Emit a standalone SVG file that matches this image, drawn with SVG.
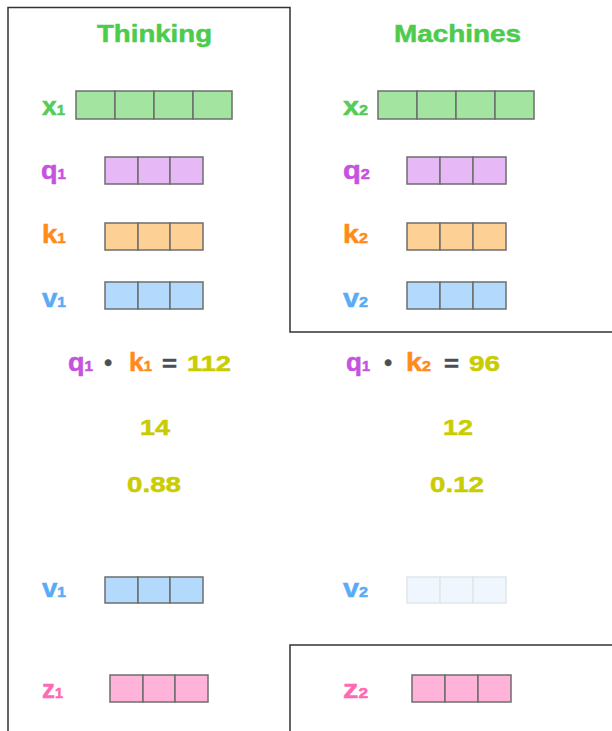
<svg xmlns="http://www.w3.org/2000/svg" width="612" height="731" viewBox="0 0 612 731">
<style>
text{font-family:"Liberation Sans",Arial,sans-serif;font-weight:bold;stroke-width:0.5}
.title{font-size:24px;fill:#4ccb4c;stroke:#4ccb4c}
.lab{font-size:25px}
.sub{font-size:14px}
.g{fill:#55cc55;stroke:#55cc55}.p{fill:#c653e0;stroke:#c653e0}.o{fill:#ff8c1a;stroke:#ff8c1a}.b{fill:#5aabf5;stroke:#5aabf5}.z{fill:#ff69b4;stroke:#ff69b4}
.num{font-size:22px;fill:#c9cc00;stroke:#c9cc00}
.op{font-size:22px;fill:#4a4f55;stroke:#4a4f55}
.cell{stroke:#6e6e6e;stroke-width:1.5}
.cx{fill:#a3e4a0}.cq{fill:#e6b8f5}.ck{fill:#fdd096}.cv{fill:#b3d9fc}.cz{fill:#ffb3d9}
.cf{fill:#eff6fe;stroke:#e2e6ea;stroke-width:1.5}
.frame{fill:none;stroke:#333;stroke-width:1.5}
</style>
<g id="frames">
<polyline class="frame" points="8,731 8,7.5 290,7.5 290,332 612,332"/>
<polyline class="frame" points="290,731 290,645 612,645"/>
</g>
<g id="title-thinking"><text class="title" x="97" y="42" textLength="115" lengthAdjust="spacingAndGlyphs">Thinking</text></g>
<g id="title-machines"><text class="title" x="394" y="42" textLength="127" lengthAdjust="spacingAndGlyphs">Machines</text></g>

<g id="x1">
<text class="lab g" x="42" y="115" textLength="23" lengthAdjust="spacingAndGlyphs">x<tspan class="sub">1</tspan></text>
<rect class="cell cx" x="76" y="91" width="39" height="28"/><rect class="cell cx" x="115" y="91" width="39" height="28"/><rect class="cell cx" x="154" y="91" width="39" height="28"/><rect class="cell cx" x="193" y="91" width="39" height="28"/>
</g>
<g id="x2">
<text class="lab g" x="343" y="115" textLength="25" lengthAdjust="spacingAndGlyphs">x<tspan class="sub">2</tspan></text>
<rect class="cell cx" x="378" y="91" width="39" height="28"/><rect class="cell cx" x="417" y="91" width="39" height="28"/><rect class="cell cx" x="456" y="91" width="39" height="28"/><rect class="cell cx" x="495" y="91" width="39" height="28"/>
</g>

<g id="q1">
<text class="lab p" x="41" y="179" textLength="25" lengthAdjust="spacingAndGlyphs">q<tspan class="sub">1</tspan></text>
<rect class="cell cq" x="105" y="157" width="33" height="27"/><rect class="cell cq" x="138" y="157" width="32" height="27"/><rect class="cell cq" x="170" y="157" width="33" height="27"/>
</g>
<g id="k1">
<text class="lab o" x="42" y="243" textLength="24" lengthAdjust="spacingAndGlyphs">k<tspan class="sub">1</tspan></text>
<rect class="cell ck" x="105" y="223" width="33" height="27"/><rect class="cell ck" x="138" y="223" width="32" height="27"/><rect class="cell ck" x="170" y="223" width="33" height="27"/>
</g>
<g id="v1">
<text class="lab b" x="42" y="307" textLength="24" lengthAdjust="spacingAndGlyphs">v<tspan class="sub">1</tspan></text>
<rect class="cell cv" x="105" y="282" width="33" height="27"/><rect class="cell cv" x="138" y="282" width="32" height="27"/><rect class="cell cv" x="170" y="282" width="33" height="27"/>
</g>

<g id="q2">
<text class="lab p" x="343" y="179" textLength="27" lengthAdjust="spacingAndGlyphs">q<tspan class="sub">2</tspan></text>
<rect class="cell cq" x="407" y="157" width="33" height="27"/><rect class="cell cq" x="440" y="157" width="33" height="27"/><rect class="cell cq" x="473" y="157" width="33" height="27"/>
</g>
<g id="k2">
<text class="lab o" x="343" y="243" textLength="25" lengthAdjust="spacingAndGlyphs">k<tspan class="sub">2</tspan></text>
<rect class="cell ck" x="407" y="223" width="33" height="27"/><rect class="cell ck" x="440" y="223" width="33" height="27"/><rect class="cell ck" x="473" y="223" width="33" height="27"/>
</g>
<g id="v2">
<text class="lab b" x="343" y="307" textLength="25" lengthAdjust="spacingAndGlyphs">v<tspan class="sub">2</tspan></text>
<rect class="cell cv" x="407" y="282" width="33" height="27"/><rect class="cell cv" x="440" y="282" width="33" height="27"/><rect class="cell cv" x="473" y="282" width="33" height="27"/>
</g>

<g id="score1">
<text class="lab p" x="68" y="371" textLength="25" lengthAdjust="spacingAndGlyphs">q<tspan class="sub">1</tspan></text>
<text class="op" x="108" y="370" text-anchor="middle">•</text>
<text class="lab o" x="129" y="371" textLength="23" lengthAdjust="spacingAndGlyphs">k<tspan class="sub">1</tspan></text>
<text class="op" x="162" y="371" textLength="15" lengthAdjust="spacingAndGlyphs">=</text>
<text class="num" x="187" y="371" textLength="44" lengthAdjust="spacingAndGlyphs">112</text>
</g>
<g id="score2">
<text class="lab p" x="346" y="371" textLength="24" lengthAdjust="spacingAndGlyphs">q<tspan class="sub">1</tspan></text>
<text class="op" x="388" y="370" text-anchor="middle">•</text>
<text class="lab o" x="406" y="371" textLength="25" lengthAdjust="spacingAndGlyphs">k<tspan class="sub">2</tspan></text>
<text class="op" x="444" y="371" textLength="15" lengthAdjust="spacingAndGlyphs">=</text>
<text class="num" x="469" y="371" textLength="31" lengthAdjust="spacingAndGlyphs">96</text>
</g>
<g id="scaled1"><text class="num" x="140" y="435" textLength="30" lengthAdjust="spacingAndGlyphs">14</text></g>
<g id="scaled2"><text class="num" x="443" y="435" textLength="30" lengthAdjust="spacingAndGlyphs">12</text></g>
<g id="softmax1"><text class="num" x="127" y="492" textLength="54" lengthAdjust="spacingAndGlyphs">0.88</text></g>
<g id="softmax2"><text class="num" x="430" y="492" textLength="54" lengthAdjust="spacingAndGlyphs">0.12</text></g>

<g id="wv1">
<text class="lab b" x="42" y="597" textLength="24" lengthAdjust="spacingAndGlyphs">v<tspan class="sub">1</tspan></text>
<rect class="cell cv" x="105" y="577" width="33" height="26"/><rect class="cell cv" x="138" y="577" width="32" height="26"/><rect class="cell cv" x="170" y="577" width="33" height="26"/>
</g>
<g id="wv2">
<text class="lab b" x="343" y="597" textLength="25" lengthAdjust="spacingAndGlyphs">v<tspan class="sub">2</tspan></text>
<rect class="cf" x="407" y="577" width="33" height="26"/><rect class="cf" x="440" y="577" width="33" height="26"/><rect class="cf" x="473" y="577" width="33" height="26"/>
</g>
<g id="z1">
<text class="lab z" x="42" y="698" textLength="21" lengthAdjust="spacingAndGlyphs">z<tspan class="sub">1</tspan></text>
<rect class="cell cz" x="110" y="675" width="33" height="27"/><rect class="cell cz" x="143" y="675" width="32" height="27"/><rect class="cell cz" x="175" y="675" width="33" height="27"/>
</g>
<g id="z2">
<text class="lab z" x="343" y="698" textLength="25" lengthAdjust="spacingAndGlyphs">z<tspan class="sub">2</tspan></text>
<rect class="cell cz" x="412" y="675" width="33" height="27"/><rect class="cell cz" x="445" y="675" width="33" height="27"/><rect class="cell cz" x="478" y="675" width="33" height="27"/>
</g>
</svg>
